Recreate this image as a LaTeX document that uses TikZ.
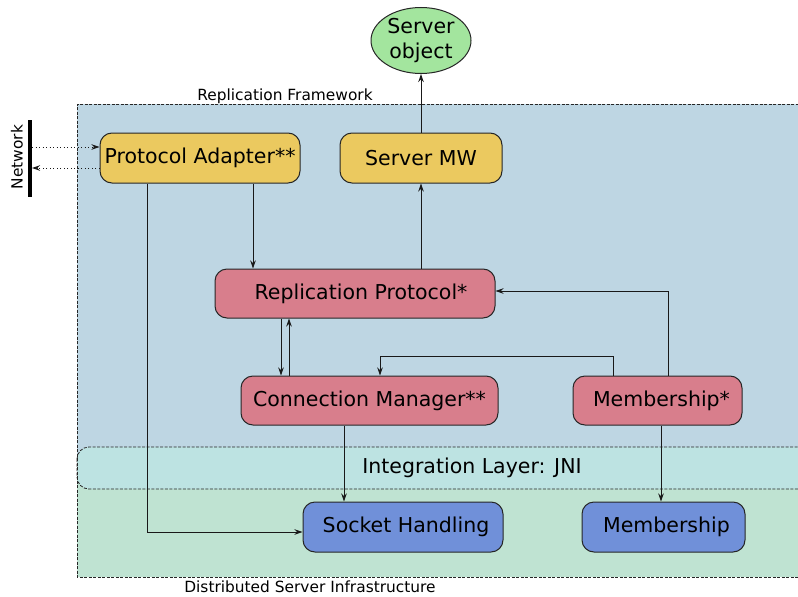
\documentclass[tikz,border=0pt]{standalone}
\usepackage{fontspec}
\setmainfont{DejaVu Sans}
\usetikzlibrary{arrows.meta,shapes.geometric}

\definecolor{framebg}{HTML}{BED6E3}
\definecolor{jnibg}{HTML}{BDE3E2}
\definecolor{infrabg}{HTML}{BFE3D2}
\definecolor{adapterfill}{HTML}{EBC95F}
\definecolor{protofill}{HTML}{D87E8C}
\definecolor{nativefill}{HTML}{7090D9}
\definecolor{objfill}{HTML}{A3E59E}

\tikzset{
  bigtext/.style={font=\fontsize{20.5}{25}\selectfont},
  smalltext/.style={font=\fontsize{15.4}{18}\selectfont},
  boxbase/.style={draw=black!85, line width=1pt, rounded corners=12pt,
    minimum height=50pt, inner sep=0pt, bigtext},
  adapterbox/.style={boxbase, fill=adapterfill},
  protobox/.style={boxbase, fill=protofill},
  nativebox/.style={boxbase, fill=nativefill},
  objnode/.style={ellipse, draw=black!85, line width=1pt, fill=objfill,
    minimum width=100pt, minimum height=66pt, inner sep=0pt, align=center, bigtext},
  regionline/.style={draw=black!85, line width=0.8pt, dash pattern=on 3pt off 1.5pt},
  arr/.style={draw=black!90, line width=1pt, -{Stealth[length=8pt,width=5.5pt]}},
  netlink/.style={arr, dash pattern=on 1pt off 2.5pt},
}

\begin{document}
\begin{tikzpicture}[x=1pt,y=-1pt]
\useasboundingbox (0,0) rectangle (798,597);
\clip (0,0) rectangle (798,597);

% layered background regions
\fill[framebg] (77,104) rectangle (830,470);
\fill[infrabg] (77,470) rectangle (830,577);
\draw[regionline, fill=jnibg, rounded corners=12pt] (77,447) rectangle (830,489);
\draw[regionline] (830,104) -- (77,104) -- (77,577) -- (830,577);

\node[smalltext] (fwlabel) at (285,96) {Replication Framework};
\node[smalltext] (infralabel) at (310,587) {Distributed Server Infrastructure};
\node[bigtext] (jnilabel) at (472,468) {Integration Layer: JNI};

% network endpoint
\coordinate (netT) at (30,120);
\coordinate (netB) at (30,197);
\draw[line width=4.5pt] (netT) -- (netB);
\node[smalltext, rotate=90] (netlabel) at (17,157) {Network};

% components
\node[objnode] (obj) at (421,40.5) {Server\\object};
\node[adapterbox, minimum width=200pt] (pa) at (200,158) {Protocol Adapter**};
\node[adapterbox, minimum width=162pt] (smw) at (421,158) {Server MW};
\node[protobox, minimum width=280pt, minimum height=49pt] (rp) at (355,293.5) {\hspace*{12pt}Replication Protocol*};
\node[protobox, minimum width=257pt, minimum height=49pt] (cm) at (369.5,400.5) {Connection Manager**};
\node[protobox, minimum width=169pt, minimum height=49pt] (mem) at (657.5,400.5) {\hspace*{8pt}Membership*};
\node[nativebox, minimum width=200pt] (sock) at (403,527) {\hspace*{6pt}Socket Handling};
\node[nativebox, minimum width=163pt] (nmem) at (663.5,527) {\hspace*{6pt}Membership};

% network traffic
\coordinate (nIn) at (32,147);
\coordinate (nOut) at (32,168);
\draw[netlink] (nIn) -- (nIn -| pa.west);
\draw[netlink] (nOut -| pa.west) -- (nOut);

% connectors
\draw[arr] (smw.north) -- (obj.south);
\draw[arr] (smw.south |- rp.north) -- (smw.south);

\coordinate (paR) at (253,0);
\draw[arr] (paR |- pa.south) -- (paR |- rp.north);

\coordinate (paL) at (147,532);
\draw[arr] (paL |- pa.south) -- (paL) -- (paL -| sock.west);

\coordinate (rpDown) at (281,0);
\coordinate (rpUp) at (289,0);
\draw[arr] (rpDown |- rp.south) -- (rpDown |- cm.north);
\draw[arr] (rpUp |- cm.north) -- (rpUp |- rp.south);

\coordinate (mcA) at (613,356);
\coordinate (mcB) at (380,356);
\draw[arr] (mcA |- mem.north) -- (mcA) -- (mcB) -- (mcB |- cm.north);

\coordinate (mrA) at (668,291);
\draw[arr] (mrA |- mem.north) -- (mrA) -- (mrA -| rp.east);

\coordinate (cs) at (344,0);
\draw[arr] (cs |- cm.south) -- (cs |- sock.north);

\coordinate (mn) at (661,0);
\draw[arr] (mn |- mem.south) -- (mn |- nmem.north);
\end{tikzpicture}
\end{document}
